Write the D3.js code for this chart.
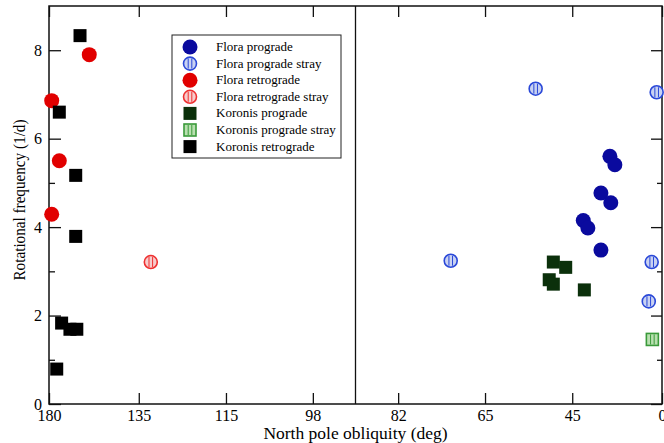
<!DOCTYPE html>
<html>
<head>
<meta charset="utf-8">
<script src="https://d3js.org/d3.v7.min.js"></script>
<style>
  body { margin: 0; background: #fff; }
  text { font-family: "Liberation Serif", "Times New Roman", serif; fill: #000; }
</style>
</head>
<body>
<div id="chart"></div>
<script>
var width = 664;
var height = 443;

// obliquity in degrees, frequency in 1/d
var floraPro = [[33.9, 5.60], [32.2, 5.41], [36.8, 4.77], [33.6, 4.55], [42.0, 4.15], [40.7, 3.98], [36.8, 3.48]];
var floraProStray = [[54.0, 7.13], [10.7, 7.05], [71.9, 3.24], [14.9, 3.21], [16.9, 2.32]];
var floraRetro = [[172.4, 6.86], [150.3, 7.90], [165.1, 5.50], [172.4, 4.29]];
var floraRetroStray = [[131.9, 3.21]];
var koronisPro = [[49.8, 3.21], [46.7, 3.09], [50.8, 2.81], [49.8, 2.71], [41.7, 2.58]];
var koronisProStray = [[14.4, 1.46]];
var koronisRetro = [[154.0, 8.33], [165.1, 6.60], [155.9, 5.17], [155.9, 3.79], [163.5, 1.83], [158.7, 1.69], [155.4, 1.69], [167.1, 0.79]];

var xTickLabels = [180, 135, 115, 98, 82, 65, 45, 0];
var yMajor = [0, 2, 4, 6, 8];
var yMinor = [1, 3, 5, 7];

var series = [
  { name: "Flora prograde", data: floraPro, shape: "circle", stray: false, color: "#0a0a9e", light: "#0a0a9e" },
  { name: "Flora prograde stray", data: floraProStray, shape: "circle", stray: true, color: "#2a48d8", light: "#c9d2f2" },
  { name: "Flora retrograde", data: floraRetro, shape: "circle", stray: false, color: "#e10000", light: "#e10000" },
  { name: "Flora retrograde stray", data: floraRetroStray, shape: "circle", stray: true, color: "#ee3030", light: "#f7cccc" },
  { name: "Koronis prograde", data: koronisPro, shape: "square", stray: false, color: "#0b300b", light: "#0b300b" },
  { name: "Koronis prograde stray", data: koronisProStray, shape: "square", stray: true, color: "#3a9a3a", light: "#b9e0b0" },
  { name: "Koronis retrograde", data: koronisRetro, shape: "square", stray: false, color: "#000000", light: "#000000" }
]

var margin = { left: 49, right: 2, top: 6, bottom: 39 };
var x0 = margin.left, x1 = width - margin.right;
var y0 = margin.top, y1 = height - margin.bottom;

function cosd(deg) {
  return Math.cos(deg * Math.PI / 180)
}

// axis is linear in cos(obliquity)
var xScale = d3.scaleLinear().domain([-1, 1]).range([x0, x1])
var yScale = d3.scaleLinear().domain([0, 9]).range([y1, y0])

var svg = d3.select("#chart").append("svg")
  .attr("width", width)
  .attr("height", height)

var xTicks = xTickLabels.map(function(d) { return cosd(d) })

// bottom axis
var bottom = svg.append("g")
  .attr("transform", "translate(0," + y1 + ")")
  .call(d3.axisBottom(xScale).tickValues(xTicks).tickSize(-11).tickPadding(17)
    .tickFormat(function(d, i) { return xTickLabels[i] }))
bottom.selectAll("text").attr("font-size", "16px").attr("dy", "0")

// top axis
svg.append("g")
  .attr("transform", "translate(0," + y0 + ")")
  .call(d3.axisTop(xScale).tickValues(xTicks).tickSize(-11).tickFormat(""))

// left axis
var left = svg.append("g")
  .attr("transform", "translate(" + x0 + ",0)")
  .call(d3.axisLeft(yScale).tickValues(yMajor).tickSize(-12).tickPadding(7).tickFormat(d3.format("d")))
left.selectAll("text").attr("font-size", "16px")
svg.append("g")
  .attr("transform", "translate(" + x0 + ",0)")
  .call(d3.axisLeft(yScale).tickValues(yMinor).tickSize(-6).tickFormat(""))

// right axis
svg.append("g")
  .attr("transform", "translate(" + x1 + ",0)")
  .call(d3.axisRight(yScale).tickValues(yMajor).tickSize(-11).tickFormat(""))
svg.append("g")
  .attr("transform", "translate(" + x1 + ",0)")
  .call(d3.axisRight(yScale).tickValues(yMinor).tickSize(-5).tickFormat(""))

svg.selectAll(".domain").remove()
svg.selectAll(".tick line").attr("stroke", "#111").attr("stroke-width", 1.3)

// frame and the 90 deg line
svg.append("rect")
  .attr("x", x0)
  .attr("y", y0)
  .attr("width", x1 - x0)
  .attr("height", y1 - y0)
  .attr("fill", "none")
  .attr("stroke", "#111")
  .attr("stroke-width", 1.5)

svg.append("line")
  .attr("x1", xScale(0))
  .attr("x2", xScale(0))
  .attr("y1", y0)
  .attr("y2", y1)
  .attr("stroke", "#111")
  .attr("stroke-width", 1.3)

// axis titles
svg.append("text")
  .attr("x", (x0 + x1) / 2)
  .attr("y", 439)
  .attr("text-anchor", "middle")
  .attr("font-size", "17.5px")
  .text("North pole obliquity (deg)")

svg.append("text")
  .attr("transform", "translate(25,200) rotate(-90)")
  .attr("text-anchor", "middle")
  .attr("font-size", "17px")
  .attr("textLength", 161)
  .attr("lengthAdjust", "spacingAndGlyphs")
  .text("Rotational frequency (1/d)")

function drawSymbol(g, s) {
  if (s.shape == "circle") {
    var r = s.stray ? 6.5 : 7.5
    g.append("circle")
      .attr("r", r)
      .attr("fill", s.stray ? s.light : s.color)
      .attr("stroke", s.color)
      .attr("stroke-width", s.stray ? 1.6 : 0)
  } else {
    var h = s.stray ? 6 : 6.5
    g.append("rect")
      .attr("x", -h)
      .attr("y", -h)
      .attr("width", h * 2)
      .attr("height", h * 2)
      .attr("fill", s.stray ? s.light : s.color)
      .attr("stroke", s.color)
      .attr("stroke-width", s.stray ? 1.6 : 0)
  }
  if (s.stray) {
    [-1.8, 1.8].forEach(function(dx) {
      g.append("line")
        .attr("x1", dx).attr("x2", dx)
        .attr("y1", -5).attr("y2", 5)
        .attr("stroke", s.color)
        .attr("stroke-width", 1)
    })
  }
}

// points
series.forEach(function(s) {
  svg.append("g").selectAll("g")
    .data(s.data)
    .enter()
    .append("g")
    .attr("transform", function(d) {
      return "translate(" + xScale(cosd(d[0])) + "," + yScale(d[1]) + ")"
    })
    .each(function() { drawSymbol(d3.select(this), s) })
})

// legend
var legend = svg.append("g")
legend.append("rect")
  .attr("x", 172)
  .attr("y", 35)
  .attr("width", 169)
  .attr("height", 123)
  .attr("fill", "#fff")
  .attr("stroke", "#222")
  .attr("stroke-width", 1)

series.forEach(function(s, i) {
  var yy = 47 + i * 16.6
  var g = legend.append("g").attr("transform", "translate(190," + yy + ")")
  drawSymbol(g, s)
  legend.append("text")
    .attr("x", 216)
    .attr("y", yy + 4)
    .attr("font-size", "13px")
    .text(s.name)
})
</script>
</body>
</html>
